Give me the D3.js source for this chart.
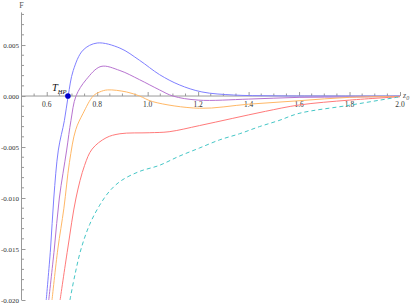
<!DOCTYPE html>
<html>
<head>
<meta charset="utf-8">
<script src="https://cdn.jsdelivr.net/npm/d3@7"></script>
<style>
  body { margin: 0; background: #fff; }
</style>
</head>
<body>
<div id="chart-div"></div>
<script>
// curves, z0 vs F
const blueZ = [0.598, 0.615, 0.628, 0.646, 0.67, 0.685, 0.705, 0.744, 0.80, 0.89, 0.968, 1.047, 1.125, 1.215, 1.34, 1.5, 1.75, 2.0];
const blueF = [-0.020, -0.015, -0.010, -0.0053, -0.0024, 0, 0.0025, 0.0045, 0.0052, 0.0047, 0.0035, 0.0021, 0.0011, 0.0004, 0.0001, 0.00002, 0, 0];

const purpleZ = [0.608, 0.630, 0.650, 0.679, 0.696, 0.716, 0.756, 0.815, 0.89, 0.968, 1.047, 1.1, 1.2, 1.4, 1.6, 1.8, 2.0];
const purpleF = [-0.020, -0.015, -0.010, -0.0053, -0.0024, 0, 0.0016, 0.0029, 0.0025, 0.0016, 0.0006, 0.0000, -0.0004, -0.0003, -0.00013, -0.0001, -0.00003];

const orangeZ = [0.621, 0.644, 0.668, 0.69, 0.715, 0.744, 0.784, 0.81, 0.841, 0.916, 0.968, 1.02, 1.205, 1.40, 1.6, 1.8, 2.0];
const orangeF = [-0.020, -0.015, -0.011, -0.0065, -0.0033, -0.0017, 0, 0.0004, 0.0006, 0.0004, 0, -0.00055, -0.0012, -0.0008, -0.00046, -0.00013, -0.00005];

const redZ = [0.653, 0.683, 0.716, 0.75, 0.78, 0.835, 0.89, 1.006, 1.085, 1.205, 1.335, 1.467, 1.6, 1.8, 2.0];
const redF = [-0.020, -0.015, -0.010, -0.0068, -0.0052, -0.0041, -0.0037, -0.0036, -0.0035, -0.0029, -0.0022, -0.0015, -0.00088, -0.0004, -0.00007];

const cyanZ = [0.692, 0.712, 0.736, 0.77, 0.81, 0.85, 0.895, 0.967, 1.046, 1.125, 1.205, 1.285, 1.364, 1.443, 1.52, 1.6, 1.8, 2.0];
const cyanF = [-0.020, -0.0175, -0.015, -0.0126, -0.0107, -0.0093, -0.0083, -0.0074, -0.0068, -0.0059, -0.0051, -0.0043, -0.0037, -0.0030, -0.0024, -0.0017, -0.0009, -0.00007];

const xMajor = [0.6, 0.8, 1.0, 1.2, 1.4, 1.6, 1.8, 2.0];
const yMajor = [0.005, 0.000, -0.005, -0.010, -0.015, -0.020];

const hpPoint = [0.684, 0];

const width = 415;
const height = 305;
const serif = '"Liberation Serif", "DejaVu Serif", serif';

const svg = d3.select('#chart-div').append('svg')
    .attr('width', width)
    .attr('height', height)
    .attr('font-family', serif);

const xScale = d3.scaleLinear().domain([0.5, 2.0]).range([21.5, 400]);
const yScale = d3.scaleLinear().domain([-0.020, 0.0082]).range([300, 12.4]);

const axisColor = '#999';
const hyphen = f => (v => f(v).replace('\u2212', '-'));

// x axis with ticks pointing up
const xMinor = d3.range(0.55, 2.001, 0.05).filter(v => !xMajor.some(m => Math.abs(m - v) < 1e-6));
const xAxis = d3.axisTop(xScale)
    .tickValues(xMajor)
    .tickSize(4)
    .tickFormat('');
const xAxisG = svg.append('g')
    .attr('transform', `translate(0,${yScale(0)})`)
    .call(xAxis);
xAxisG.select('.domain').attr('stroke', axisColor).attr('d', `M${xScale(0.5)},0H${xScale(2.0)}`);
xAxisG.selectAll('line').attr('stroke', axisColor);
xAxisG.selectAll('.minor').data(xMinor).enter().append('line')
    .attr('class', 'minor')
    .attr('x1', d => xScale(d)).attr('x2', d => xScale(d))
    .attr('y1', 0).attr('y2', -2.5)
    .attr('stroke', axisColor);
xAxisG.selectAll('.lbl').data(xMajor).enter().append('text')
    .attr('class', 'lbl')
    .attr('x', d => xScale(d))
    .attr('y', 10.5)
    .attr('text-anchor', 'middle')
    .attr('font-family', serif)
    .attr('font-size', 7.5)
    .attr('fill', '#333')
    .text(d => d3.format('.1f')(d));

// y axis with ticks pointing right
const yMinor = d3.range(-0.020, 0.00801, 0.001).filter(v => !yMajor.some(m => Math.abs(m - v) < 1e-9));
const yAxis = d3.axisRight(yScale)
    .tickValues(yMajor)
    .tickSize(4)
    .tickFormat('');
const yAxisG = svg.append('g')
    .attr('transform', `translate(${xScale(0.5)},0)`)
    .call(yAxis);
yAxisG.select('.domain').attr('stroke', axisColor).attr('d', `M0,${yScale(-0.020)}V${yScale(0.0082)}`);
yAxisG.selectAll('line').attr('stroke', axisColor);
yAxisG.selectAll('.minor').data(yMinor).enter().append('line')
    .attr('class', 'minor')
    .attr('y1', d => yScale(d)).attr('y2', d => yScale(d))
    .attr('x1', 0).attr('x2', 2.5)
    .attr('stroke', axisColor);
yAxisG.selectAll('.lbl').data(yMajor).enter().append('text')
    .attr('class', 'lbl')
    .attr('x', -2.5)
    .attr('y', d => yScale(d) + 2.5)
    .attr('text-anchor', 'end')
    .attr('font-family', serif)
    .attr('font-size', 7)
    .attr('fill', '#333')
    .text(d => hyphen(d3.format('.3f'))(d));

// axis labels
svg.append('text')
    .attr('x', xScale(0.5))
    .attr('y', 8)
    .attr('text-anchor', 'middle')
    .attr('font-size', 8)
    .attr('fill', '#555')
    .text('F');

const zLab = svg.append('text')
    .attr('x', 403)
    .attr('y', yScale(0) + 2)
    .attr('font-size', 8)
    .attr('fill', '#555')
    .attr('font-style', 'italic');
zLab.append('tspan').text('z');
zLab.append('tspan').attr('font-size', 6).attr('dy', 1.5).text('0');

// curves
const series = [
    { z: blueZ, f: blueF, color: '#7f7fff', dash: null },
    { z: purpleZ, f: purpleF, color: '#b773d0', dash: null },
    { z: orangeZ, f: orangeF, color: '#ffb866', dash: null },
    { z: redZ, f: redF, color: '#ff7a7a', dash: null },
    { z: cyanZ, f: cyanF, color: '#44c6c6', dash: '4,3' }
];

const line = d3.line()
    .x(d => xScale(d[0]))
    .y(d => yScale(d[1]))
    .curve(d3.curveCatmullRom.alpha(0.5));

svg.selectAll('.curve').data(series).enter().append('path')
    .attr('class', 'curve')
    .attr('d', s => line(s.z.map((z, i) => [z, s.f[i]])))
    .attr('fill', 'none')
    .attr('stroke', s => s.color)
    .attr('stroke-width', 1)
    .attr('stroke-dasharray', s => s.dash);

// T_HP marker
svg.append('circle')
    .attr('cx', xScale(hpPoint[0]))
    .attr('cy', yScale(hpPoint[1]))
    .attr('r', 2.8)
    .attr('fill', '#0000cc');

const tLab = svg.append('text')
    .attr('x', xScale(hpPoint[0]) - 16)
    .attr('y', yScale(hpPoint[1]) - 5)
    .attr('font-size', 10.5)
    .attr('font-style', 'italic')
    .attr('fill', '#111');
tLab.append('tspan').text('T');
tLab.append('tspan').attr('font-size', 6.5).attr('dy', 2.5).text('HP');
</script>
</body>
</html>
